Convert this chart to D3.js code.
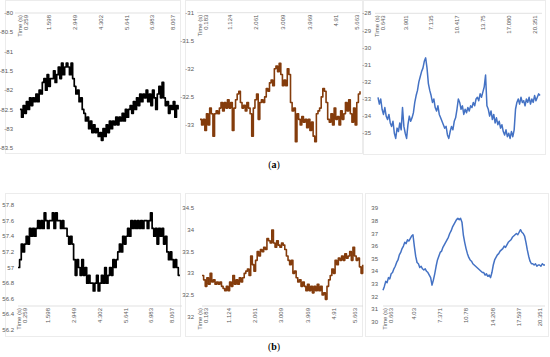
<!DOCTYPE html>
<html>
<head>
<meta charset="utf-8">
<script src="https://cdn.jsdelivr.net/npm/d3@7"></script>
<style>
  body { margin: 0; background: #fff; }
  svg { display: block; }
  .tick-label { font-family: "Liberation Sans", Arial, sans-serif; font-size: 6px; fill: #595959; }
  .caption { font-family: "Liberation Serif", "Times New Roman", serif; font-size: 10px; fill: #000; }
</style>
</head>
<body>
<div id="chart"></div>
<script>
// ---- values ----
// (a) row
var a1Values = [-82.5,-82.7,-82.4,-82.6,-82.3,-82.5,-82.2,-82.4,-82.2,-82.3,
  -82.1,-82.3,-82.0,-82.1,-81.8,-81.7,-82.0,-81.6,-81.9,-81.7,
  -81.7,-81.5,-81.8,-81.6,-81.4,-81.7,-81.3,-81.6,-81.4,-81.3,
  -81.4,-81.6,-81.3,-81.7,-81.9,-82.1,-82.0,-82.3,-82.2,-82.5,
  -82.6,-82.8,-82.7,-83.0,-82.8,-83.1,-82.9,-83.1,-83.0,-83.2,
  -83.1,-83.3,-83.0,-83.2,-82.9,-83.1,-82.8,-83.0,-82.8,-82.9,
  -82.7,-82.9,-82.7,-82.8,-82.6,-82.8,-82.5,-82.7,-82.5,-82.4,
  -82.6,-82.3,-82.5,-82.2,-82.4,-82.1,-82.3,-82.1,-82.2,-82.0,
  -82.3,-82.1,-82.4,-82.0,-82.2,-82.5,-82.1,-81.9,-82.2,-81.8,
  -82.2,-82.4,-82.3,-82.6,-82.4,-82.5,-82.3,-82.7,-82.4,-82.5];

var a2Values = [-32.9,-33.0,-32.9,-33.1,-32.8,-33.0,-32.7,-32.8,-33.2,-32.8,
  -32.75,-32.8,-32.7,-32.6,-32.75,-32.6,-32.7,-32.55,-32.7,-32.6,
  -33.1,-32.7,-32.55,-32.45,-32.4,-32.6,-32.7,-32.65,-32.75,-32.6,
  -32.7,-32.8,-33.2,-32.7,-32.55,-32.45,-32.9,-32.6,-32.55,-32.6,
  -32.5,-32.35,-32.4,-32.25,-32.2,-32.3,-32.0,-31.95,-32.05,-31.9,
  -32.1,-32.3,-32.2,-32.3,-32.0,-32.1,-32.6,-32.75,-32.7,-33.3,
  -32.8,-32.9,-33.0,-32.85,-32.95,-32.9,-33.05,-32.9,-33.1,-32.95,
  -33.2,-33.3,-32.8,-32.75,-32.7,-32.5,-32.35,-32.4,-32.6,-32.9,
  -32.95,-32.8,-33.0,-32.7,-32.9,-32.85,-33.0,-32.75,-32.9,-32.8,
  -32.6,-32.75,-32.55,-32.8,-32.95,-32.7,-33.0,-32.6,-32.45,-32.4];

var a3Values = [-32.9,-33.3,-33.0,-33.6,-33.9,-33.5,-34.0,-34.2,-33.9,-34.4,
  -34.6,-34.3,-35.0,-35.3,-34.7,-34.9,-34.4,-34.8,-33.5,-34.6,
  -35.0,-35.3,-34.5,-34.0,-34.3,-34.1,-33.8,-33.2,-32.8,-32.5,
  -32.0,-31.7,-31.4,-31.2,-30.8,-30.6,-31.2,-32.1,-32.5,-32.8,
  -33.2,-33.0,-33.5,-33.7,-33.4,-33.9,-34.1,-34.3,-34.5,-34.7,
  -34.6,-35.1,-35.3,-34.9,-34.6,-34.8,-34.3,-34.1,-33.6,-33.0,
  -33.2,-33.6,-33.4,-33.9,-33.6,-33.8,-33.5,-33.7,-33.4,-33.5,
  -33.2,-33.4,-33.0,-32.9,-33.1,-32.7,-32.9,-32.6,-32.3,-31.6,
  -33.4,-33.6,-34.0,-33.7,-34.2,-33.9,-34.4,-34.1,-34.5,-34.3,
  -34.7,-34.5,-34.9,-35.1,-34.8,-35.2,-35.0,-35.3,-34.9,-35.2,
  -34.8,-33.6,-33.2,-33.0,-33.3,-32.9,-33.2,-33.1,-33.4,-33.0,
  -33.2,-32.9,-33.3,-33.0,-33.2,-32.8,-33.1,-32.9,-32.7,-32.8];

// (b) row
var b1Values = [57.0,57.1,57.3,57.2,57.3,57.4,57.3,57.5,57.4,57.5,
  57.4,57.5,57.6,57.5,57.6,57.5,57.7,57.6,57.5,57.6,
  57.6,57.7,57.5,57.7,57.6,57.6,57.5,57.6,57.5,57.5,
  57.4,57.3,57.4,57.3,57.1,56.9,57.1,57.0,56.9,57.1,
  56.9,57.0,56.8,56.9,56.8,56.8,56.7,56.8,56.9,56.7,
  56.8,56.9,56.8,57.0,56.8,56.9,57.0,56.9,57.1,57.0,
  57.1,57.2,57.3,57.2,57.4,57.3,57.4,57.5,57.4,57.6,
  57.5,57.6,57.5,57.6,57.5,57.6,57.5,57.6,57.6,57.5,
  57.6,57.7,57.5,57.4,57.5,57.3,57.5,57.4,57.5,57.3,
  57.4,57.2,57.1,57.2,57.1,57.0,57.1,57.0,56.9,56.9];

var b2Values = [32.95,32.85,32.7,32.9,32.75,33.0,32.8,32.85,32.75,32.8,
  32.75,32.8,32.7,32.65,32.6,32.7,32.6,32.8,32.7,32.95,
  32.75,32.85,32.75,32.9,32.8,32.9,33.0,33.05,33.1,32.95,
  33.4,33.2,33.05,33.3,33.5,33.4,33.55,33.5,33.6,33.55,
  33.8,33.75,33.7,34.0,33.7,33.6,33.75,33.65,33.6,33.7,
  33.65,33.55,33.4,33.3,33.2,33.3,33.0,33.05,32.9,32.8,
  32.85,32.7,32.8,32.7,32.6,32.75,32.6,32.7,32.55,32.7,
  32.6,32.75,32.6,32.7,32.5,32.55,32.4,32.7,32.85,32.95,
  33.1,33.0,33.3,33.2,33.35,33.3,33.4,33.3,33.45,33.35,
  33.4,33.5,33.3,33.6,33.4,33.3,33.35,33.15,33.0,33.2];

var b3Values = [32.5,32.8,33.2,33.1,33.5,33.4,33.8,33.9,34.2,34.4,
  34.7,34.9,35.3,35.5,35.8,36.0,36.3,36.2,36.5,36.4,
  36.6,36.8,36.9,36.0,35.2,34.7,34.6,34.3,34.4,34.2,
  34.1,34.2,34.0,33.9,33.7,33.5,32.9,33.3,33.8,34.4,
  34.9,35.2,35.5,35.6,35.9,36.1,36.3,36.5,36.7,37.0,
  37.2,37.5,37.7,37.9,38.1,38.2,38.1,38.2,37.9,36.9,
  36.3,35.8,35.4,35.1,34.9,34.8,34.6,34.5,34.4,34.3,
  34.2,34.1,34.0,33.9,33.9,33.7,33.8,33.6,33.7,33.5,
  33.9,34.5,34.9,35.1,35.3,35.4,35.6,35.7,35.8,36.0,
  35.9,36.1,36.3,36.4,36.5,36.7,36.8,36.9,37.0,36.9,
  37.1,37.3,37.1,37.0,36.8,36.3,35.7,35.2,34.8,34.6,
  34.6,34.5,34.6,34.4,34.5,34.5,34.4,34.6,34.5,34.5];

// time tick labels (s)
var timeTicks1 = ["0.259","1.598","2.949","4.302","5.641","6.983","8.067"];
var timeTicks2 = ["0.183","1.124","2.061","3.009","3.969","4.91","5.663"];
var timeTicks3a = ["0.643","3.901","7.135","10.417","13.75","17.080","20.351"];
var timeTicks3b = ["0.663","4.03","7.371","10.78","14.208","17.597","20.351"];

// value tick labels
var yTicksA1 = [-80,-80.5,-81,-81.5,-82,-82.5,-83,-83.5];
var yTicksA2 = [-31,-31.5,-32,-32.5,-33];
var yTicksA3 = [-28,-29,-30,-31,-32,-33,-34,-35];
var yTicksB1 = [57.8,57.6,57.4,57.2,57,56.8,56.6,56.4,56.2];
var yTicksB2 = [34.5,34,33.5,33,32.5,32];
var yTicksB3 = [39,38,37,36,35,34,33,32,31,30];

// ---- layout ----
var W = 550, H = 357;
var svg = d3.select("#chart").append("svg").attr("width", W).attr("height", H);

var black = "#000000", brown = "#843c0c", blue = "#4472c4";

var panels = [
  {vals: a1Values, tRange: [0.10, 8.33], ticks: timeTicks1, tickPx: [23, 173], yTicks: yTicksA1,
   yDom: [-83.5, -80], yRng: [148, 13], labX: 13, box: [5, 0, 180, 153], axisY: "top",
   axisX: [15, 180], color: black, step: true, width: 1.7},
  {vals: a2Values, tRange: [0.076, 5.77], ticks: timeTicks2, tickPx: [203, 357], yTicks: yTicksA2,
   yDom: [-33.5, -31], yRng: [153, 12.7], labX: 194, box: [185, 0, 362, 153], axisY: "top",
   axisX: [197, 360], color: brown, step: true, width: 1.6},
  {vals: a3Values, tRange: [0.39, 20.99], ticks: timeTicks3a, tickPx: [380, 535], yTicks: yTicksA3,
   yDom: [-36, -28], yRng: [150.4, 13.3], labX: 371, box: [363, 0, 545, 154], axisY: "top",
   axisX: [375, 542], color: blue, step: false, width: 1.5},
  {vals: b1Values, tRange: [0.05, 8.48], ticks: timeTicks1, tickPx: [22, 172], yTicks: yTicksB1,
   yDom: [56.2, 57.8], yRng: [330, 205], labX: 14, box: [5, 193, 180, 336], axisY: 306,
   axisX: [18, 182], color: black, step: true, width: 1.7},
  {vals: b2Values, tRange: [0.147, 5.94], ticks: timeTicks2, tickPx: [203, 355], yTicks: yTicksB2,
   yDom: [32, 34.5], yRng: [316.7, 208.3], labX: 194, box: [185, 193, 362, 336], axisY: 306,
   axisX: [202, 363], color: brown, step: true, width: 1.6},
  {vals: b3Values, tRange: [0.016, 21.0], ticks: timeTicks3b, tickPx: [388, 540], yTicks: yTicksB3,
   yDom: [30, 39], yRng: [321.7, 208.3], labX: 378, box: [365, 193, 548, 336], axisY: 306,
   axisX: [383, 545], color: blue, step: false, width: 1.5}
];

panels.forEach(function(p) {
  var g = svg.append("g");

  // faint chart-area frame
  g.append("rect")
    .attr("x", p.box[0] + 0.5).attr("y", p.box[1] + 0.5)
    .attr("width", p.box[2] - p.box[0]).attr("height", p.box[3] - p.box[1])
    .attr("fill", "none").attr("stroke", "#ececec").attr("stroke-width", 1);

  var t0 = +p.ticks[0], t1 = +p.ticks[p.ticks.length - 1];
  var x = d3.scaleLinear().domain([t0, t1]).range(p.tickPx);
  var y = d3.scaleLinear().domain(p.yDom).range(p.yRng);
  var tIdx = d3.scaleLinear().domain([0, p.vals.length - 1]).range(p.tRange);

  var axisY = p.axisY === "top" ? y(p.yDom[1]) : p.axisY;

  // horizontal category axis line
  g.append("line")
    .attr("x1", p.axisX[0]).attr("x2", p.axisX[1])
    .attr("y1", axisY).attr("y2", axisY)
    .attr("stroke", "#d9d9d9").attr("stroke-width", 0.8);

  // value labels
  g.selectAll(".ylab").data(p.yTicks).enter().append("text")
    .attr("class", "tick-label")
    .attr("x", p.labX).attr("y", function(d) { return y(d); })
    .attr("dy", "0.35em").attr("text-anchor", "end")
    .text(function(d) { return d; });

  // time labels, rotated
  g.selectAll(".xlab").data(p.ticks).enter().append("text")
    .attr("class", "tick-label")
    .attr("text-anchor", "end")
    .attr("transform", function(d) { return "translate(" + x(+d) + "," + (axisY + 2) + ") rotate(-90)"; })
    .each(function(d, i) {
      var t = d3.select(this);
      if (i === 0) {
        t.append("tspan").attr("x", 0).attr("dy", "-0.25em").text("Time (s)");
        t.append("tspan").attr("x", 0).attr("dy", "1.05em").text(d);
      } else {
        t.append("tspan").attr("x", 0).attr("dy", "0.35em").text(d);
      }
    });

  // the series
  var line = d3.line()
    .x(function(d, i) { return x(tIdx(i)); })
    .y(function(d) { return y(d); })
    .curve(p.step ? d3.curveStepAfter : d3.curveLinear);

  g.append("path")
    .datum(p.vals)
    .attr("d", line)
    .attr("fill", "none")
    .attr("stroke", p.color)
    .attr("stroke-width", p.width)
    .attr("stroke-linejoin", "round");
});

// sub-figure captions
function caption(letter, cy) {
  var t = svg.append("text").attr("class", "caption")
    .attr("x", 274).attr("y", cy).attr("text-anchor", "middle");
  t.append("tspan").text("(");
  t.append("tspan").attr("font-weight", "bold").text(letter);
  t.append("tspan").text(")");
}
caption("a", 168);
caption("b", 350);
</script>
</body>
</html>
